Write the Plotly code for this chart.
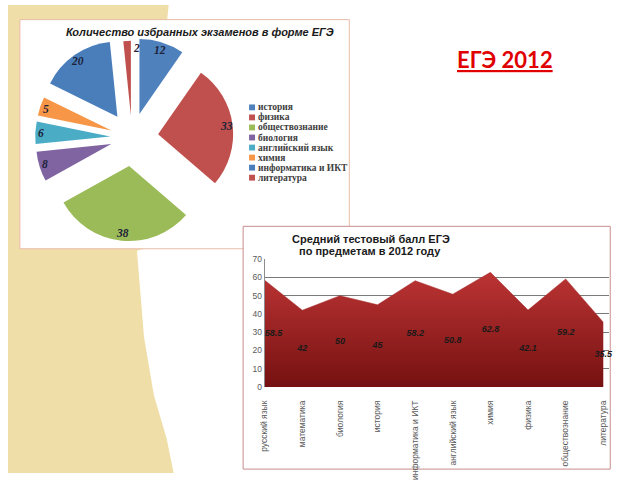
import math
import plotly.graph_objects as go

W, H = 640, 480


def px(x):
    return x / W


def py(y):
    return 1 - y / H


# ---------------- data ----------------
pie_subjects = ["история", "физика", "обществознание", "биология",
                "английский язык", "химия", "информатика и ИКТ", "литература"]
pie_counts = [12, 33, 38, 8, 6, 5, 20, 2]
pie_colors = ["#4F81BD", "#C0504D", "#9BBB59", "#8064A2",
              "#4BACC6", "#F79646", "#4A7EBB", "#C0504D"]
pie_pull = [0.33, 0.35, 0.38, 0.29, 0.29, 0.29, 0.34, 0.29]

area_subjects = ["русский язык", "математика", "биология", "история",
                 "информатика и ИКТ", "английский язык", "химия", "физика",
                 "обществознание", "литература"]
area_scores = [58.5, 42, 50, 45, 58.2, 50.8, 62.8, 42.1, 59.2, 35.5]
y_ticks = [0, 10, 20, 30, 40, 50, 60, 70]

pie_title = "Количество избранных экзаменов в форме ЕГЭ"
area_title_1 = "Средний тестовый балл ЕГЭ"
area_title_2 = " по предметам в 2012 году"
slide_title = "ЕГЭ 2012"

fig = go.Figure()

# ---------------- pie ----------------
pie_cx, pie_cy, pie_side = 128, 136, 212.5
pie_dom_x = [px(pie_cx - pie_side / 2), px(pie_cx + pie_side / 2)]
pie_dom_y = [py(pie_cy + pie_side / 2), py(pie_cy - pie_side / 2)]

fig.add_trace(go.Pie(
    labels=pie_subjects, values=pie_counts, sort=False,
    direction="clockwise", rotation=0, pull=pie_pull,
    marker=dict(colors=pie_colors, line=dict(width=0)),
    textinfo="none", hoverinfo="label+value", showlegend=False,
    domain=dict(x=pie_dom_x, y=pie_dom_y),
))

annotations = []
shapes = []

# ---------------- decorations (drawn first, below everything) -----------
beige_pts = [(3, 0), (165, 0), (140, 250), (133, 252), (140, 340),
             (150, 400), (163, 445), (170, 480), (3, 480)]
path = "M " + " L ".join(f"{px(x):.4f},{py(y):.4f}" for x, y in beige_pts) + " Z"
shapes += [
    dict(type="path", path=path, xref="paper", yref="paper",
         fillcolor="#F0DEA8", line=dict(width=0), layer="below"),
    dict(type="rect", xref="paper", yref="paper", x0=px(15), x1=px(347),
         y0=py(250), y1=py(15), fillcolor="white",
         line=dict(color="#E8BBA8", width=1), layer="below"),
    dict(type="rect", xref="paper", yref="paper", x0=px(240), x1=px(610),
         y0=py(476), y1=py(227), fillcolor="white",
         line=dict(color="#C98C8C", width=1), layer="below"),
]

# value labels on pie slices (positions derived from values)
r = pie_side / (2 + 2 * max(pie_pull))
total = sum(pie_counts)
cum = 0
for i, v in enumerate(pie_counts):
    mid = (cum + v / 2) / total * 2 * math.pi
    cum += v
    dist = (pie_pull[i] + 0.9) * r
    lx = pie_cx + dist * math.sin(mid)
    ly = pie_cy - dist * math.cos(mid)
    annotations.append(dict(
        x=px(lx), y=py(ly), xref="paper", yref="paper", showarrow=False,
        text=f"<b><i>{v}</i></b>", xshift=9 if v == min(pie_counts) else 0,
        font=dict(family="Liberation Serif", size=11.5, color="#1c2238"),
        xanchor="center", yanchor="middle"))

# custom compact legend: colour swatches + names
leg_x, leg_y0, leg_dy, sw = 246, 105, 10.3, 6
for i, (name, c) in enumerate(zip(pie_subjects, pie_colors)):
    yc = leg_y0 + i * leg_dy
    shapes.append(dict(
        type="rect", xref="paper", yref="paper",
        x0=px(leg_x), x1=px(leg_x + sw), y0=py(yc + sw / 2), y1=py(yc - sw / 2),
        fillcolor=c, line=dict(width=0), layer="above"))
    annotations.append(dict(
        x=px(leg_x + sw + 0.5), y=py(yc), xref="paper", yref="paper",
        showarrow=False, xanchor="left", yanchor="middle", text=name,
        font=dict(family="Liberation Serif", size=9.5, color="#404040",
                  weight="bold")))

annotations.append(dict(
    x=px(197), y=py(28), xref="paper", yref="paper", showarrow=False,
    text=f"<b><i>{pie_title}</i></b>",
    font=dict(family="Liberation Sans", size=11, color="#1a1a1a"),
    xanchor="center", yanchor="middle"))

# ---------------- area chart ----------------
fig.add_trace(go.Scatter(
    x=area_subjects, y=area_scores, mode="lines", fill="tozeroy",
    line=dict(width=0.5, color="#A52A2A"),
    fillgradient=dict(type="vertical",
                      colorscale=[[0, "#741010"], [1, "#BC3434"]],
                      start=0, stop=63),
    showlegend=False, hoverinfo="x+y"))

label_pos = ["middle right"] + ["middle center"] * (len(area_scores) - 1)
fig.add_trace(go.Scatter(
    x=area_subjects, y=[v / 2 for v in area_scores], mode="text",
    text=[str(v) for v in area_scores], textposition=label_pos,
    textfont=dict(family="Liberation Sans", size=9, color="#1a1a1a",
                  style="italic", weight="bold"),
    cliponaxis=False, showlegend=False, hoverinfo="skip"))

x_left, x_last, x_right = 261.7, 603.0, 609.0
step = (x_last - x_left) / (len(area_subjects) - 1)
fig.update_xaxes(
    type="category", domain=[px(x_left), px(x_right)],
    range=[0, len(area_subjects) - 1 + (x_right - x_last) / step],
    tickangle=-90, showgrid=False, zeroline=False, showline=False,
    ticks="", ticklabelstandoff=11,
    tickfont=dict(family="Liberation Sans", size=8.5, color="#595959"))
fig.update_yaxes(
    domain=[py(391.7), py(260.7)], range=[0, 70], tickvals=y_ticks,
    showgrid=True, gridcolor="#7a7a7a", gridwidth=1, zeroline=False,
    showline=True, linecolor="#8c8c8c", linewidth=1, ticks="",
    tickfont=dict(family="Liberation Sans", size=8.5, color="#595959"))

annotations.append(dict(
    x=px(369), y=py(240), xref="paper", yref="paper", showarrow=False,
    text=f"<b>{area_title_1}</b>",
    font=dict(family="Liberation Sans", size=11, color="#1a1a1a"),
    xanchor="center", yanchor="middle"))
annotations.append(dict(
    x=px(366), y=py(252.5), xref="paper", yref="paper", showarrow=False,
    text=f"<b>{area_title_2}</b>",
    font=dict(family="Liberation Sans", size=11, color="#1a1a1a"),
    xanchor="center", yanchor="middle"))

annotations.append(dict(
    x=px(504), y=py(56), xref="paper", yref="paper", showarrow=False,
    text=f"<b><u>{slide_title}</u></b>",
    font=dict(family="Lato", size=22, color="#E00000"),
    xanchor="center", yanchor="middle"))

fig.update_layout(
    width=W, height=H, autosize=False,
    margin=dict(l=0, r=0, t=0, b=0),
    paper_bgcolor="white", plot_bgcolor="rgba(0,0,0,0)",
    annotations=annotations, shapes=shapes, showlegend=False,
)

fig.write_html("out.html")
